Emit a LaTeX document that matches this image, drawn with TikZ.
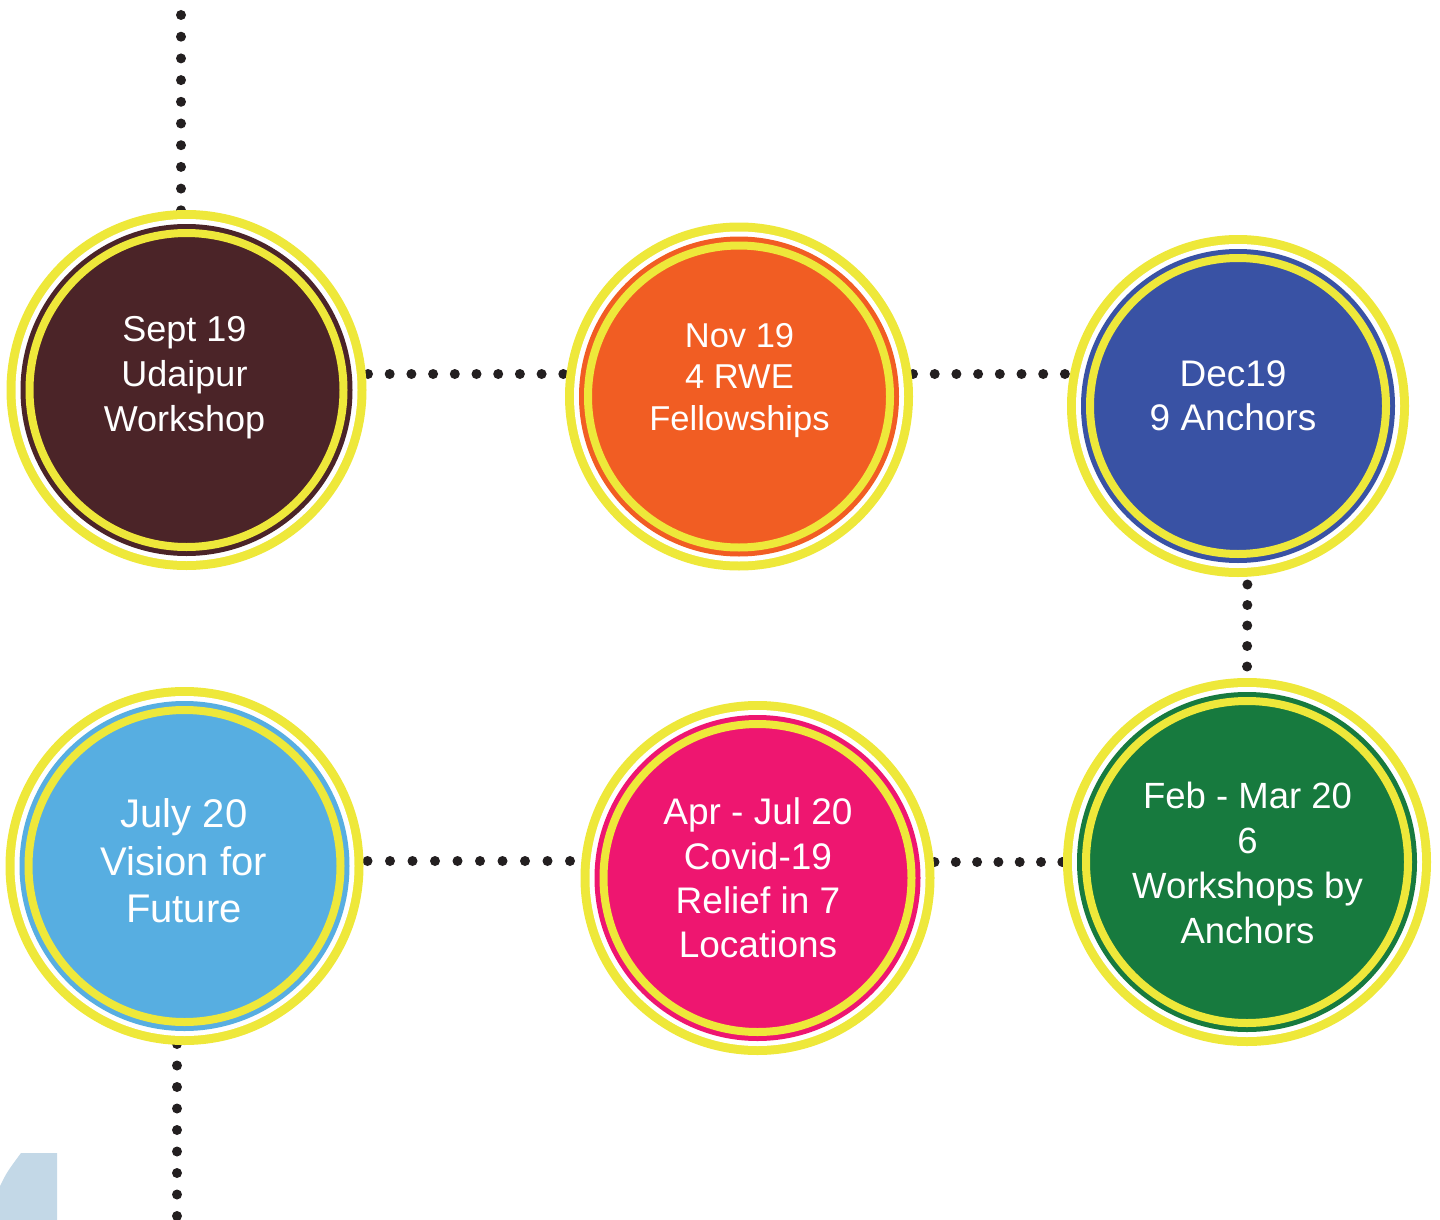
\documentclass[tikz,border=0pt]{standalone}
\usepackage{fontspec}
\setmainfont{Liberation Sans}
\usetikzlibrary{backgrounds}
\definecolor{ylw}{HTML}{EEE83A}
\definecolor{dotc}{HTML}{231F20}
\definecolor{cbrown}{HTML}{4B2428}
\definecolor{corange}{HTML}{F15D23}
\definecolor{cblue}{HTML}{3952A4}
\definecolor{cgreen}{HTML}{177A3E}
\definecolor{cpink}{HTML}{EE1670}
\definecolor{clblue}{HTML}{57AEE1}
\definecolor{cshape}{HTML}{C3D8E7}
\newcommand\myrings[3]{%
  \fill[white] (#1.center) circle[radius={(#2-9)*1pt}];
  \fill[#3] (#1.center) circle[radius={(#2-14)*1pt}];
  \draw[ylw, line width=8pt] (#1.center) circle[radius={(#2-23)*1pt}];
}
\begin{document}
\begin{tikzpicture}[x=1pt,y=-1pt,
  event/.style={circle, fill=ylw, draw=none, inner sep=0pt, outer sep=0pt},
  lbl/.style={text=white, align=center, inner sep=0pt, outer sep=0pt},
  dotline/.style={draw=dotc, line width=10pt, line cap=round, dash pattern=on 0pt off #1},
  dotline/.default=21.7pt]
\useasboundingbox (0,0) rectangle (1440,1220);

% decorative shape bottom-left
\fill[cshape] (0,1220) -- (0,1186) .. controls (7,1172) .. (21,1153) -- (57,1153) -- (57,1220) -- cycle;

% circles
\node[event, minimum size=360pt] (c1) at (186.5,390) {};
\node[event, minimum size=348pt] (c2) at (739,396.5) {};
\node[event, minimum size=342pt] (c3) at (1238,406) {};
\node[event, minimum size=368pt] (c4) at (1247,862) {};
\node[event, minimum size=354pt] (c5) at (757.5,878) {};
\node[event, minimum size=358pt] (c6) at (184.5,866) {};

\myrings{c1}{180}{cbrown}
\myrings{c2}{174}{corange}
\myrings{c3}{171}{cblue}
\myrings{c4}{184}{cgreen}
\myrings{c5}{177}{cpink}
\myrings{c6}{179}{clblue}

% labels
\node[lbl, font=\fontsize{36}{45}\selectfont] (t1) at (184.5,377.6) {Sept 19\\Udaipur\\Workshop};
\node[lbl, font=\fontsize{34.5}{41.5}\selectfont] (t2) at (739.5,380.5) {Nov 19\\4 RWE\\Fellowships};
\node[lbl, font=\fontsize{37}{44}\selectfont] (t3) at (1233,395.7) {Dec19\\9 Anchors};
\node[lbl, font=\fontsize{36.5}{45}\selectfont] (t4) at (1247.5,862.5) {Feb - Mar 20\\6\\Workshops by\\Anchors};
\node[lbl, font=\fontsize{37}{44.3}\selectfont] (t5) at (758,878.2) {Apr - Jul 20\\Covid-19\\Relief in 7\\Locations};
\node[lbl, font=\fontsize{40}{47.5}\selectfont] (t6) at (184,861) {July 20\\Vision for\\Future};

% dotted connectors behind the circles
\coordinate (top) at (181,15);
\coordinate (bot) at (177,1216);
\begin{scope}[on background layer]
\draw[dotline] (top) -- (top |- c1.center);
\draw[dotline] ([xshift=1.5pt,yshift=16pt]c1.east) -- ([yshift=22.5pt]c2.west);
\draw[dotline] ([yshift=22.5pt]c2.east) -- ([yshift=32pt]c3.west);
\draw[dotline=20.5pt] ([xshift=9.5pt,yshift=13pt]c3.south) -- (c4.north);
\draw[dotline=21.3pt] ([yshift=16pt]c5.east) -- (c4.west);
\draw[dotline=22.5pt] ([xshift=4pt,yshift=5pt]c6.east) -- ([xshift=14pt,yshift=17pt]c5.west);
\draw[dotline=21.5pt] (bot) -- (bot |- c6.center);
\end{scope}
\end{tikzpicture}
\end{document}
